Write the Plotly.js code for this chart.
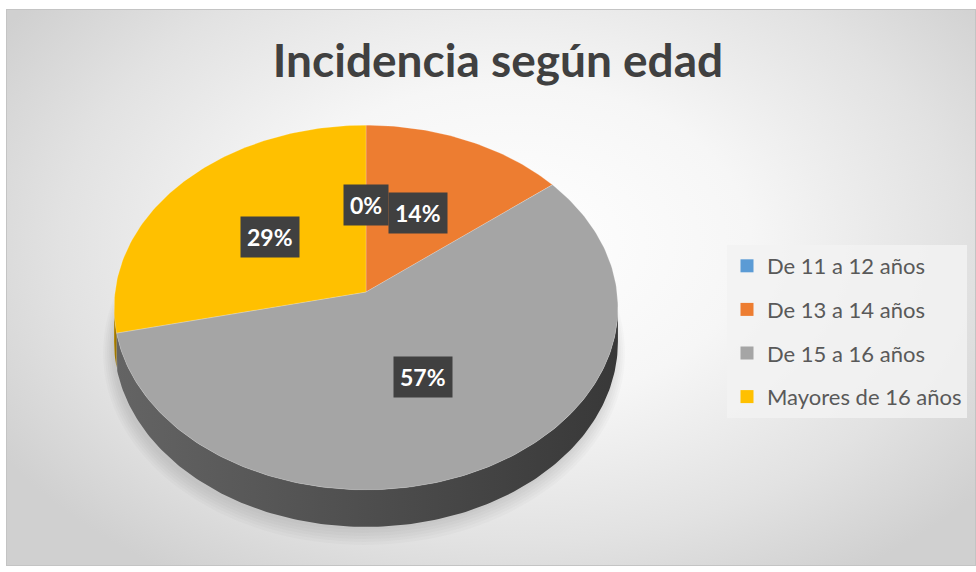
<!DOCTYPE html>
<html>
<head>
<meta charset="utf-8">
<script src="https://cdn.plot.ly/plotly-3.0.1.min.js"></script>
<style>
  html, body { margin:0; padding:0; background:#ffffff; }
  #bg { position:absolute; left:6px; top:9px; width:968px; height:555px;
        border:1px solid #c4c4c4;
        background: radial-gradient(ellipse 62% 72% at 52% 42%, #ffffff 0%, #f6f6f6 40%, #e2e2e2 75%, #d0d0d0 100%); }
  #chart { position:absolute; left:0; top:0; width:976px; height:572px; }
</style>
</head>
<body>
<div id="bg"></div>
<div id="chart"></div>
<script>
// ---- data ----
const categories = ['De 11 a 12 años', 'De 13 a 14 años', 'De 15 a 16 años', 'Mayores de 16 años'];
const values = [0, 1, 4, 2];
const chartTitle = 'Incidencia según edad';

// ---- style ----
const topColors = ['#5B9BD5', '#ED7D31', '#A5A5A5', '#FFC000'];
const sideScales = [
  [[0, '#3f6e99'], [1, '#2b4d6b']],
  [[0, '#b35d22'], [1, '#7d4017']],
  [[0, '#646464'], [1, '#383838']],
  [[0, '#b88a00'], [1, '#8a6700']]
];
// geometry of the tilted pie (pixel space)
const CX = 366, CY = 292, RX = 251, RY = 181, K = 0.085, DEPTH = 34;

function proj(thetaDeg, f, down) {
  const t = thetaDeg * Math.PI / 180;
  const s = 1 / (1 + K * f * Math.cos(t));
  const x = CX + RX * f * Math.sin(t) * s;
  const y = CY - RY * f * Math.cos(t) * s + (down ? DEPTH * s : 0);
  return [x, y];
}

const total = values.reduce((a, b) => a + b, 0);
const bounds = [];
let acc = 0;
values.forEach(v => { const a = acc / total * 360; acc += v; bounds.push([a, acc / total * 360]); });

const silA = Math.acos(-K) * 180 / Math.PI;  // visible side range
const silB = 360 - silA;

const traces = [];
// side faces
values.forEach((v, i) => {
  const lo = Math.max(bounds[i][0], silA), hi = Math.min(bounds[i][1], silB);
  if (v <= 0 || hi <= lo) return;
  const xs = [], ys = [];
  const n = Math.max(2, Math.ceil(hi - lo));
  for (let k = 0; k <= n; k++) { const p = proj(lo + (hi - lo) * k / n, 1, false); xs.push(p[0]); ys.push(p[1]); }
  for (let k = n; k >= 0; k--) { const p = proj(lo + (hi - lo) * k / n, 1, true); xs.push(p[0]); ys.push(p[1]); }
  traces.push({
    type: 'scatter', mode: 'lines', x: xs, y: ys, fill: 'toself',
    fillcolor: sideScales[i][0][1],
    fillgradient: { type: 'horizontal', colorscale: sideScales[i] },
    line: { width: 0 }, hoverinfo: 'skip', showlegend: false
  });
});
// top faces
values.forEach((v, i) => {
  if (v <= 0) return;
  const [a, b] = bounds[i];
  const xs = [CX], ys = [CY];
  const n = Math.max(2, Math.ceil(b - a));
  for (let k = 0; k <= n; k++) { const p = proj(a + (b - a) * k / n, 1, false); xs.push(p[0]); ys.push(p[1]); }
  xs.push(CX); ys.push(CY);
  traces.push({
    type: 'scatter', mode: 'lines', x: xs, y: ys, fill: 'toself',
    fillcolor: topColors[i], line: { width: 0.6, color: 'rgba(255,255,255,0.35)' },
    hoverinfo: 'skip', showlegend: false
  });
});
// legend entries
categories.forEach((c, i) => {
  traces.push({
    type: 'scatter', mode: 'markers', x: [null], y: [null], name: c,
    legendgroup: 'g' + i,
    marker: { symbol: 'square', size: 13, color: topColors[i] }
  });
});

// percentage labels
const annotations = values.map((v, i) => {
  const mid = (bounds[i][0] + bounds[i][1]) / 2;
  const p = proj(mid, 0.5, false);
  return {
    x: p[0], y: p[1], xref: 'x', yref: 'y', showarrow: false,
    text: Math.round(v / total * 100) + '%',
    font: { family: 'Lato, "Open Sans", sans-serif', size: 23, color: '#ffffff', weight: 'bold' },
    bgcolor: '#404040', borderpad: 6
  };
});

// soft shadow under pie
const shapes = [0, 1, 2, 3, 4, 5].map(k => ({
  type: 'circle', xref: 'x', yref: 'y', layer: 'below',
  x0: CX - RX - 2 - k * 2, x1: CX + RX - 2 + k * 2,
  y0: CY - RY + 60 - k * 2, y1: CY + 200 + DEPTH + 4 + k * 3,
  fillcolor: 'rgba(0,0,0,0.018)', line: { width: 0 }
}));

const layout = {
  width: 976, height: 572,
  margin: { l: 0, r: 0, t: 0, b: 0 },
  paper_bgcolor: 'rgba(0,0,0,0)', plot_bgcolor: 'rgba(0,0,0,0)',
  xaxis: { range: [0, 976], visible: false, fixedrange: true },
  yaxis: { range: [572, 0], visible: false, fixedrange: true },
  title: {
    text: chartTitle, x: 498 / 976, xanchor: 'center', xref: 'paper',
    y: 1 - 61 / 572, yanchor: 'middle', yref: 'container',
    font: { family: 'Lato, "Open Sans", sans-serif', size: 46, color: '#404040', weight: 'bold' }
  },
  showlegend: true,
  legend: {
    x: 727 / 976, xanchor: 'left', y: 1 - 245 / 572, yanchor: 'top',
    bgcolor: 'rgba(242,242,242,0.85)', borderwidth: 0,
    traceorder: 'grouped', tracegroupgap: 12,
    font: { family: 'Lato, "Open Sans", sans-serif', size: 22, color: '#595959' }
  },
  annotations: annotations,
  shapes: shapes
};

Plotly.newPlot('chart', traces, layout, { staticPlot: true, displayModeBar: false });
</script>
</body>
</html>
